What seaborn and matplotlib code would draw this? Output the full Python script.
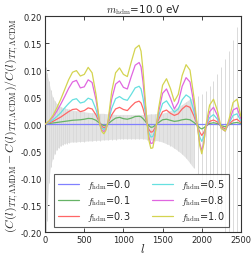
"""
Relative TT spectrum difference for a hot dark matter component (m_hdm = 10 eV),
compared with cosmic-variance / noise error bars.
"""
import numpy as np
import pandas as pd
import matplotlib
matplotlib.use("Agg")
import matplotlib.pyplot as plt
import seaborn as sns

ELL = [0, 50, 100, 150, 200, 250, 300, 350, 400, 450,
       500, 550, 600, 650, 700, 725, 750, 775, 800, 850,
       900, 950, 1000, 1050, 1100, 1150, 1200, 1225, 1250, 1275,
       1300, 1325, 1350, 1375, 1400, 1450, 1500, 1550, 1600, 1650,
       1700, 1750, 1800, 1850, 1900, 1950, 1975, 2000, 2025, 2050,
       2100, 2150, 2200, 2250, 2300, 2350, 2400, 2450, 2500]

FRACTIONS = ["0.0", "0.1", "0.3", "0.5", "0.8", "1.0"]

DIFF_00 = [0.0] * len(ELL)
DIFF_01 = [0.000, 0.001, 0.002, 0.003, 0.004, 0.005, 0.006, 0.007, 0.0075, 0.008,
           0.009, 0.0105, 0.010, 0.007, 0.001, -0.001, -0.003, -0.002, 0.000, 0.006,
           0.011, 0.0125, 0.010, 0.009, 0.011, 0.014, 0.0145, 0.0135, 0.010, 0.006,
           0.001, -0.003, -0.006, -0.0055, -0.003, 0.003, 0.008, 0.009, 0.007, 0.005,
           0.006, 0.008, 0.009, 0.008, 0.003, -0.003, -0.007, -0.009, -0.007, -0.004,
           0.001, 0.0025, 0.001, -0.003, -0.005, -0.001, 0.002, 0.003, 0.001]
DIFF_03 = [0.000, 0.002, 0.005, 0.009, 0.013, 0.018, 0.023, 0.027, 0.028, 0.023,
           0.025, 0.030, 0.028, 0.017, 0.001, -0.004, -0.007, -0.005, 0.001, 0.017,
           0.028, 0.031, 0.027, 0.025, 0.033, 0.040, 0.0425, 0.039, 0.029, 0.015,
           0.001, -0.010, -0.015, -0.014, -0.008, 0.009, 0.023, 0.026, 0.020, 0.016,
           0.019, 0.028, 0.034, 0.031, 0.015, -0.005, -0.015, -0.021, -0.016, -0.006,
           0.005, 0.0075, 0.004, -0.005, -0.009, 0.000, 0.007, 0.009, 0.003]
DIFF_05 = [0.000, 0.003, 0.008, 0.014, 0.021, 0.030, 0.038, 0.045, 0.047, 0.039,
           0.041, 0.048, 0.045, 0.027, 0.000, -0.007, -0.010, -0.007, 0.001, 0.029,
           0.047, 0.051, 0.046, 0.044, 0.055, 0.067, 0.070, 0.065, 0.048, 0.025,
           0.002, -0.016, -0.024, -0.023, -0.013, 0.015, 0.038, 0.043, 0.032, 0.022,
           0.028, 0.045, 0.054, 0.049, 0.024, -0.007, -0.024, -0.032, -0.024, -0.007,
           0.012, 0.0175, 0.009, -0.007, -0.012, 0.002, 0.016, 0.019, 0.006]
DIFF_08 = [0.000, 0.005, 0.013, 0.024, 0.037, 0.051, 0.066, 0.078, 0.081, 0.067,
           0.069, 0.082, 0.077, 0.045, -0.001, -0.011, -0.014, -0.010, 0.001, 0.046,
           0.074, 0.080, 0.068, 0.065, 0.088, 0.109, 0.114, 0.106, 0.078, 0.041,
           0.004, -0.024, -0.036, -0.035, -0.020, 0.023, 0.057, 0.065, 0.048, 0.028,
           0.040, 0.070, 0.086, 0.078, 0.038, -0.010, -0.036, -0.049, -0.035, -0.008,
           0.023, 0.031, 0.016, -0.008, -0.013, 0.005, 0.026, 0.030, 0.010]
DIFF_10 = [0.000, 0.006, 0.016, 0.030, 0.046, 0.064, 0.082, 0.096, 0.099, 0.089,
           0.092, 0.105, 0.095, 0.055, -0.002, -0.014, -0.018, -0.012, 0.002, 0.060,
           0.095, 0.104, 0.092, 0.088, 0.115, 0.140, 0.146, 0.135, 0.100, 0.052,
           0.005, -0.030, -0.045, -0.044, -0.025, 0.030, 0.072, 0.084, 0.066, 0.042,
           0.055, 0.090, 0.110, 0.100, 0.050, -0.010, -0.040, -0.055, -0.038, -0.005,
           0.035, 0.046, 0.025, -0.008, -0.013, 0.010, 0.040, 0.046, 0.014]

# error bars (upper / lower half-lengths)
ERR_ELL = [2, 10, 25, 50, 75, 100, 125, 150, 175, 200,
           225, 250, 275, 300, 350, 400, 450, 500, 550, 600,
           650, 700, 750, 800, 850, 900, 950, 1000, 1050, 1100,
           1150, 1200, 1250, 1300, 1350, 1400, 1450, 1500, 1550, 1600,
           1650, 1700, 1750, 1800, 1850, 1900, 1950, 2000, 2050, 2100,
           2150, 2200, 2250, 2300, 2350, 2400, 2450, 2500]
ERR_HI = [0.107, 0.105, 0.095, 0.080, 0.063, 0.050, 0.043, 0.038, 0.034, 0.032,
          0.030, 0.029, 0.028, 0.027, 0.025, 0.024, 0.023, 0.022, 0.021, 0.020,
          0.020, 0.019, 0.019, 0.018, 0.018, 0.017, 0.017, 0.017, 0.017, 0.017,
          0.017, 0.017, 0.017, 0.017, 0.018, 0.018, 0.019, 0.019, 0.021, 0.024,
          0.027, 0.031, 0.035, 0.040, 0.045, 0.049, 0.052, 0.056, 0.062, 0.070,
          0.080, 0.092, 0.105, 0.120, 0.135, 0.155, 0.180, 0.210]
ERR_LO = [0.40, 0.30, 0.18, 0.11, 0.08, 0.065, 0.055, 0.048, 0.044, 0.041,
          0.039, 0.037, 0.036, 0.035, 0.034, 0.034, 0.033, 0.033, 0.032, 0.032,
          0.031, 0.031, 0.030, 0.030, 0.029, 0.029, 0.028, 0.028, 0.028, 0.028,
          0.028, 0.028, 0.028, 0.029, 0.030, 0.031, 0.032, 0.034, 0.037, 0.040,
          0.045, 0.050, 0.056, 0.063, 0.072, 0.082, 0.093, 0.105, 0.118, 0.130,
          0.145, 0.160, 0.180, 0.200, 0.220, 0.240, 0.260, 0.280]
N_DENSE = 46  # bars up to l=1900 are dense enough to merge into a band

COLORS = {
    "0.0": "#8080ff",
    "0.1": "#66b366",
    "0.3": "#ff6666",
    "0.5": "#66e0e0",
    "0.8": "#e066e0",
    "1.0": "#d4d450",
}

sns.set_style("ticks")
plt.rcParams["font.family"] = ["DejaVu Sans"]
plt.rcParams["mathtext.fontset"] = "cm"
plt.rcParams["xtick.direction"] = "in"
plt.rcParams["ytick.direction"] = "in"
plt.rcParams["xtick.top"] = True
plt.rcParams["ytick.right"] = True

series = [DIFF_00, DIFF_01, DIFF_03, DIFF_05, DIFF_08, DIFF_10]
rows = []
for frac, vals in zip(FRACTIONS, series):
    for ell, v in zip(ELL, vals):
        rows.append({"ell": ell, "diff": v, "f": frac})
df = pd.DataFrame(rows)

fig = plt.figure(figsize=(2.52, 2.55), dpi=100)
ax = fig.add_axes([0.179, 0.086, 0.777, 0.847])

lo = -np.array(ERR_LO)
hi = np.array(ERR_HI)
ax.fill_between(ERR_ELL[:N_DENSE], lo[:N_DENSE], hi[:N_DENSE],
                color="#e3e3e3", linewidth=0, zorder=1)
ax.errorbar(ERR_ELL, np.zeros(len(ERR_ELL)), yerr=[ERR_LO, ERR_HI], fmt="none",
            ecolor="#dadada", elinewidth=0.7, zorder=1.5)

sns.lineplot(data=df, x="ell", y="diff", hue="f", hue_order=FRACTIONS,
             palette=COLORS, linewidth=0.9, ax=ax, zorder=3)

ax.set_xlim(0, 2500)
ax.set_ylim(-0.2, 0.2)
ax.set_xticks([0, 500, 1000, 1500, 2000, 2500])
ax.set_yticks([-0.20, -0.15, -0.10, -0.05, 0.00, 0.05, 0.10, 0.15, 0.20])
ax.yaxis.set_major_formatter(plt.FormatStrFormatter("%.2f"))
ax.tick_params(labelsize=6, length=3, width=0.6, pad=2)
for s in ax.spines.values():
    s.set_linewidth(0.8)
    s.set_color("#333333")

ax.set_title(r"$m_{\rm hdm}$=10.0 eV", fontsize=7.5, pad=2)
ax.set_xlabel(r"$l$", fontsize=9, labelpad=-1)
ax.set_ylabel(r"$(C(l)_{TT,\Lambda{\rm MDM}}-C(l)_{TT,\Lambda{\rm CDM}})/C(l)_{TT,\Lambda{\rm CDM}}$",
              fontsize=8.5, labelpad=1)

handles, _ = ax.get_legend_handles_labels()
labels = [r"$f_{\rm hdm}$=" + f for f in FRACTIONS]
leg = ax.legend(handles, labels, ncol=2, loc="lower left", bbox_to_anchor=(0.02, 0.0),
                fontsize=7, frameon=True, fancybox=False, handlelength=2.2,
                columnspacing=2.2, borderpad=0.4, labelspacing=0.2)
leg.get_frame().set_edgecolor("#333333")
leg.get_frame().set_linewidth(0.8)

fig.savefig("out.png", dpi=100)
